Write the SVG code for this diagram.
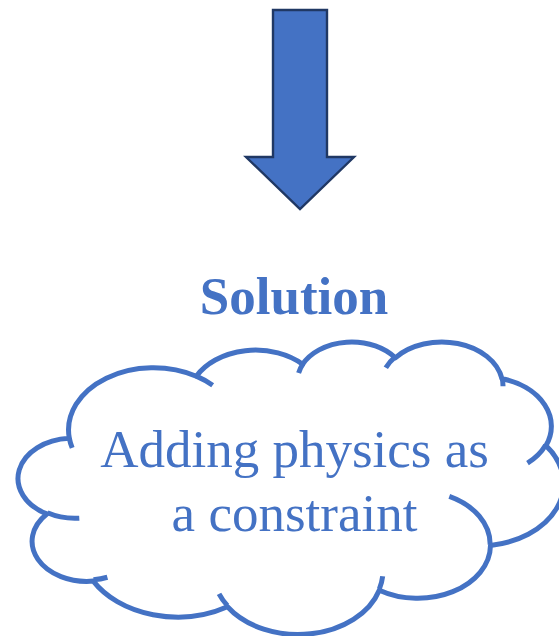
<svg xmlns="http://www.w3.org/2000/svg" width="559" height="636" viewBox="0 0 559 636">
<style>
.cloud{fill:#FFFFFF;stroke:#4472C4;stroke-width:5;stroke-linejoin:round}
.tail{fill:none;stroke:#4472C4;stroke-width:5}
.arrow{fill:#4472C4;stroke:#203864;stroke-width:2.4;stroke-linejoin:miter}
.txt{font-family:"Liberation Serif","Times New Roman",serif;fill:#4472C4;text-anchor:middle}
</style>
<rect width="559" height="636" fill="#FFFFFF"/>
<g id="connectors">
<path id="arrow" class="arrow" d="M273,10 L327,10 L327,157 L354,157 L300,209 L246,157 L273,157 Z"/>
</g>
<g id="title">
<text class="txt" x="294" y="314" font-size="53" font-weight="bold">Solution</text>
</g>
<g id="cloud">
<path class="cloud" d="M69.32,438.27 A84.89,62.21 0 0 1 196.34,376.21 A67.04,49.19 0 0 1 302.58,364.24 A54.87,40.24 0 0 1 395.29,357.77 A61.05,44.64 0 0 1 501.96,378.72 A67.04,49.23 0 0 1 545.96,445.62 A85.16,62.41 0 0 1 490.48,545.43 A72.72,53.25 0 0 1 379.27,590.18 A84.87,62.38 0 0 1 227.48,606.78 A97.04,71.37 0 0 1 93.28,581.09 A54.81,40.06 0 0 1 46.88,513.93 A54.62,40.24 0 0 1 69.32,438.27 Z"/>
<path class="tail" d="M79.29,518.19 A54.62,40.24 0 0 1 47.44,512.80 M107.38,577.23 A54.81,40.06 0 0 1 93.45,579.81 M227.43,605.60 A84.87,62.38 0 0 1 219.03,593.81 M382.66,576.23 A84.87,62.38 0 0 1 379.31,589.15 M449.30,496.38 A72.72,53.25 0 0 1 490.17,544.68 M545.70,444.93 A67.04,49.23 0 0 1 527.50,463.05 M502.03,377.73 A61.05,44.64 0 0 1 502.99,386.28 M385.81,367.75 A61.05,44.64 0 0 1 395.13,356.84 M298.61,372.95 A54.87,40.24 0 0 1 303.12,363.55 M196.28,376.15 A84.89,62.21 0 0 1 212.65,385.29 M72.18,447.88 A84.89,62.21 0 0 1 69.33,438.28"/>
<text class="txt" font-size="53"><tspan x="294.5" y="467">Adding physics as</tspan><tspan x="294.5" y="531">a constraint</tspan></text>
</g>
</svg>
